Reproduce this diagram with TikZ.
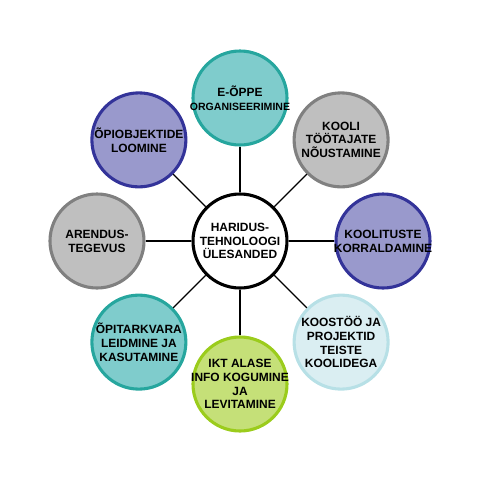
\documentclass[tikz,border=0pt]{standalone}
\usepackage{fontspec}
\setmainfont{Liberation Sans}
\definecolor{tealfill}{RGB}{127,204,204}
\definecolor{tealline}{RGB}{38,166,158}
\definecolor{grayfill}{RGB}{191,191,191}
\definecolor{grayline}{RGB}{128,128,128}
\definecolor{lilacfill}{RGB}{153,153,204}
\definecolor{lilacline}{RGB}{51,51,153}
\definecolor{icefill}{RGB}{218,238,242}
\definecolor{iceline}{RGB}{183,224,230}
\definecolor{limefill}{RGB}{197,224,120}
\definecolor{limeline}{RGB}{155,204,28}
\begin{document}
\begin{tikzpicture}[
  every node/.style = {circle, minimum size=2.35cm, inner sep=-15pt,
    line width=2.2pt, align=center,
    font=\fontsize{8.5}{9.8}\selectfont\bfseries},
  tealball/.style = {draw=tealline, fill=tealfill},
  grayball/.style = {draw=grayline, fill=grayfill},
  lilacball/.style = {draw=lilacline, fill=lilacfill},
  iceball/.style = {draw=iceline, fill=icefill},
  limeball/.style = {draw=limeline, fill=limefill},
  spoke/.style = {line width=1pt}]
  \useasboundingbox (-6,-5.975) rectangle (6,6.025);
  \node [draw=black, fill=white] (center) at (0,0)
    {HARIDUS-\\TEHNOLOOGI\\ÜLESANDED};
  \node [tealball] (eoppe) at (90:3.575)
    {E-ÕPPE\\{\fontsize{7.5}{9}\selectfont ORGANISEERIMINE}};
  \node [grayball] (kooli) at (45:3.575)
    {KOOLI\\TÖÖTAJATE\\NÕUSTAMINE};
  \node [lilacball] (koolitus) at (0:3.575)
    {KOOLITUSTE\\KORRALDAMINE};
  \node [iceball] (koostoo) at (-45:3.575)
    {KOOSTÖÖ JA\\PROJEKTID\\TEISTE\\KOOLIDEGA};
  \node [limeball] (ikt) at (-90:3.575)
    {IKT ALASE\\INFO KOGUMINE\\JA\\LEVITAMINE};
  \node [tealball] (opitark) at (-135:3.575)
    {ÕPITARKVARA\\LEIDMINE JA\\KASUTAMINE};
  \node [grayball] (arendus) at (180:3.575)
    {ARENDUS-\\TEGEVUS};
  \node [lilacball] (opiobj) at (135:3.575)
    {ÕPIOBJEKTIDE\\LOOMINE};
  \draw [spoke] (center) -- (eoppe);
  \draw [spoke] (center) -- (kooli);
  \draw [spoke] (center) -- (koolitus);
  \draw [spoke] (center) -- (koostoo);
  \draw [spoke] (center) -- (ikt);
  \draw [spoke] (center) -- (opitark);
  \draw [spoke] (center) -- (arendus);
  \draw [spoke] (center) -- (opiobj);
\end{tikzpicture}
\end{document}
